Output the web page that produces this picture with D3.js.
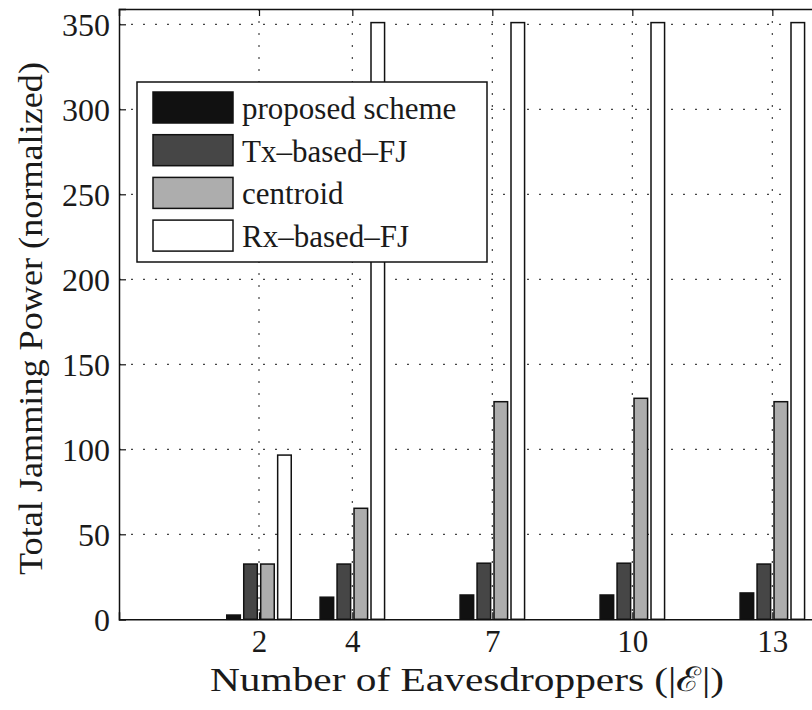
<!DOCTYPE html>
<html>
<head>
<meta charset="utf-8">
<script src="https://cdn.jsdelivr.net/npm/d3@7"></script>
</head>
<body style="margin:0">
<svg id="chart"></svg>
<script>
const width = 812;
const height = 710;
const serif = '"Liberation Serif"';

// data
const eavesdroppers = [2, 4, 7, 10, 13];
const seriesNames = ['proposed scheme', 'Tx–based–FJ', 'centroid', 'Rx–based–FJ'];
const proposed = [2.5, 13, 14.3, 14.3, 15.5];
const txBased = [32.5, 32.5, 33, 33, 32.5];
const centroid = [32.5, 65.3, 128, 130, 128];
const rxBased = [96.6, 351, 351, 351, 351];
const yTicks = [0, 50, 100, 150, 200, 250, 300, 350];

const fills = ['#111111', '#464646', '#adadad', '#ffffff'];
const series = [proposed, txBased, centroid, rxBased];

const plotLeft = 119, plotTop = 9, plotBottom = 619.3, plotRight = 819;

const svg = d3.select('#chart')
    .attr('width', width)
    .attr('height', height);

const x = d3.scaleLinear().domain([-1, 14]).range([plotLeft, plotRight]);
const y = d3.scaleLinear().domain([0, 359]).range([plotBottom, plotTop]);

// matlab grouped bar geometry
const groupWidth = Math.min(0.8, 4 / 5.5) * 2;
const slot = groupWidth / 4;
const barW = slot * 0.8;

// grid
svg.append('g').selectAll('line').data(yTicks.filter(d => d > 0))
    .enter().append('line')
    .attr('x1', plotLeft).attr('x2', plotRight)
    .attr('y1', d => y(d)).attr('y2', d => y(d))
    .attr('stroke', '#444').attr('stroke-width', 1.2)
    .attr('stroke-dasharray', '2,10');

svg.append('g').selectAll('line').data(eavesdroppers)
    .enter().append('line')
    .attr('x1', d => x(d)).attr('x2', d => x(d))
    .attr('y1', plotTop).attr('y2', plotBottom)
    .attr('stroke', '#444').attr('stroke-width', 1.2)
    .attr('stroke-dasharray', '2,10');

// bars
series.forEach((vals, i) => {
    svg.append('g').selectAll('rect').data(vals)
        .enter().append('rect')
        .attr('x', (d, j) => x(eavesdroppers[j] - groupWidth / 2 + slot * (i + 0.5) - barW / 2))
        .attr('width', x(barW) - x(0))
        .attr('y', d => y(d))
        .attr('height', d => y(0) - y(d))
        .attr('fill', fills[i])
        .attr('stroke', '#111')
        .attr('stroke-width', 1.5);
});

// axes
const yAxis = svg.append('g').attr('transform', `translate(${plotLeft},0)`)
    .call(d3.axisLeft(y).tickValues(yTicks).tickSize(-7).tickPadding(9));
const xAxis = svg.append('g').attr('transform', `translate(0,${plotBottom})`)
    .call(d3.axisBottom(x).tickValues(eavesdroppers).tickSize(-7).tickPadding(11));
const xTop = svg.append('g').attr('transform', `translate(0,${plotTop})`)
    .call(d3.axisTop(x).tickValues(eavesdroppers).tickSize(-7).tickFormat(''));

[yAxis, xAxis, xTop].forEach(a => {
    a.attr('font-family', serif).attr('font-size', 32);
    a.select('.domain').attr('stroke', '#111').attr('stroke-width', 1.5);
    a.selectAll('.tick line').attr('stroke', '#111').attr('stroke-width', 1.2);
    a.selectAll('text')
        .attr('font-family', serif)
        .attr('font-size', 32)
        .attr('fill', '#1a1a1a');
});
yAxis.selectAll('.tick text').attr('dy', '0.35em');
xAxis.selectAll('.tick text').attr('font-size', 31).attr('dy', '0.71em');

// axis titles
svg.append('text')
    .attr('x', 210).attr('y', 691)
    .attr('textLength', 514)
    .attr('lengthAdjust', 'spacingAndGlyphs')
    .attr('font-family', serif)
    .attr('font-size', 34)
    .attr('fill', '#1a1a1a')
    .text('Number of Eavesdroppers (|ℰ|)');

svg.append('text')
    .attr('transform', 'translate(42,575) rotate(-90)')
    .attr('textLength', 513)
    .attr('lengthAdjust', 'spacingAndGlyphs')
    .attr('font-family', serif)
    .attr('font-size', 34)
    .attr('fill', '#1a1a1a')
    .text('Total Jamming Power (normalized)');

// legend
const legend = svg.append('g').attr('transform', 'translate(137,82)');
legend.append('rect')
    .attr('width', 350).attr('height', 180)
    .attr('fill', '#fff').attr('stroke', '#111').attr('stroke-width', 1.5);

const rows = legend.selectAll('.item').data(seriesNames)
    .enter().append('g')
    .attr('class', 'item')
    .attr('transform', (d, i) => `translate(16,${10 + i * 42.7})`);

rows.append('rect')
    .attr('width', 80).attr('height', 31)
    .attr('fill', (d, i) => fills[i])
    .attr('stroke', '#111').attr('stroke-width', 1.5);

rows.append('text')
    .attr('x', 89).attr('y', 16)
    .attr('dy', '0.35em')
    .attr('font-family', serif)
    .attr('font-size', 31)
    .attr('fill', '#1a1a1a')
    .text(d => d);
</script>
</body>
</html>
